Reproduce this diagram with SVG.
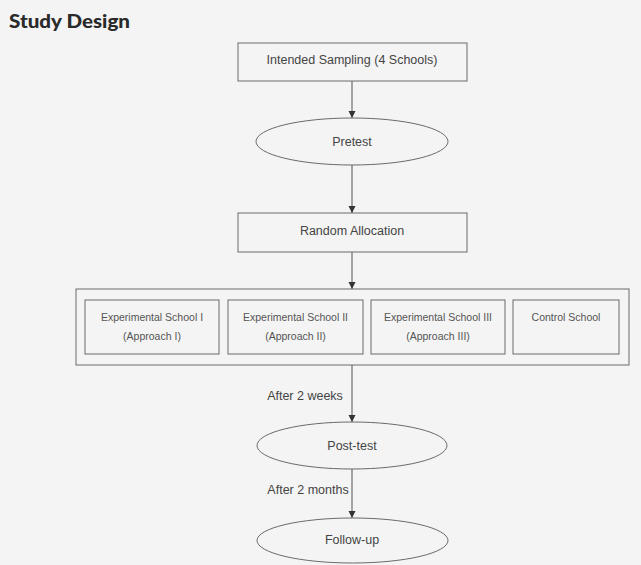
<svg xmlns="http://www.w3.org/2000/svg" width="641" height="565" viewBox="0 0 641 565">
<style>
.bg{fill:#f4f4f4}
.box{fill:none;stroke:#6a6a6a;stroke-width:1}
.lbl{font-family:"Liberation Sans",Arial,sans-serif;font-size:12.5px;fill:#444;text-anchor:middle}
.sm{font-family:"Liberation Sans",Arial,sans-serif;font-size:10.5px;fill:#555;text-anchor:middle}
.edge{stroke:#555;stroke-width:1;fill:none;marker-end:url(#ah)}
.title{font-family:"Lato","Open Sans",sans-serif;font-weight:900;font-size:19px;fill:#2a2a2a}
</style>
<defs>
<marker id="ah" markerWidth="7" markerHeight="8" refX="7" refY="4" orient="auto" markerUnits="userSpaceOnUse">
<path d="M0,0.5 L7,4 L0,7.5 Z" fill="#333"/>
</marker>
</defs>
<rect class="bg" x="0" y="0" width="641" height="565"/>
<text class="title" x="9" y="28" textLength="121" lengthAdjust="spacingAndGlyphs">Study Design</text>

<g id="connectors">
<line class="edge" x1="352" y1="81" x2="352" y2="118"/>
<line class="edge" x1="352" y1="165" x2="352" y2="213"/>
<line class="edge" x1="352" y1="252" x2="352" y2="289"/>
<line class="edge" x1="352" y1="365" x2="352" y2="422"/>
<line class="edge" x1="352" y1="469" x2="352" y2="518"/>
<text class="lbl" x="305" y="400">After 2 weeks</text>
<text class="lbl" x="308" y="494">After 2 months</text>
</g>

<g id="sampling">
<rect class="box" x="238" y="43" width="229" height="38"/>
<text class="lbl" x="352" y="64">Intended Sampling (4 Schools)</text>
</g>

<g id="pretest">
<ellipse class="box" cx="352" cy="141.5" rx="96" ry="23.5"/>
<text class="lbl" x="352" y="146">Pretest</text>
</g>

<g id="allocation">
<rect class="box" x="238" y="213" width="229" height="39"/>
<text class="lbl" x="352" y="235">Random Allocation</text>
</g>

<g id="groups">
<rect class="box" x="76" y="289" width="553" height="76"/>
</g>

<g id="school1">
<rect class="box" x="85" y="300" width="134" height="54"/>
<text class="sm" x="152" y="321">Experimental School I</text>
<text class="sm" x="152" y="340">(Approach I)</text>
</g>

<g id="school2">
<rect class="box" x="228" y="300" width="135" height="54"/>
<text class="sm" x="295.5" y="321">Experimental School II</text>
<text class="sm" x="295.5" y="340">(Approach II)</text>
</g>

<g id="school3">
<rect class="box" x="371" y="300" width="134" height="54"/>
<text class="sm" x="438" y="321">Experimental School III</text>
<text class="sm" x="438" y="340">(Approach III)</text>
</g>

<g id="control">
<rect class="box" x="513" y="300" width="106" height="54"/>
<text class="sm" x="566" y="321">Control School</text>
</g>

<g id="posttest">
<ellipse class="box" cx="352" cy="445.5" rx="95" ry="23.5"/>
<text class="lbl" x="352" y="450">Post-test</text>
</g>

<g id="followup">
<ellipse class="box" cx="352.5" cy="540.5" rx="95.5" ry="22.5"/>
<text class="lbl" x="352" y="544">Follow-up</text>
</g>
</svg>
